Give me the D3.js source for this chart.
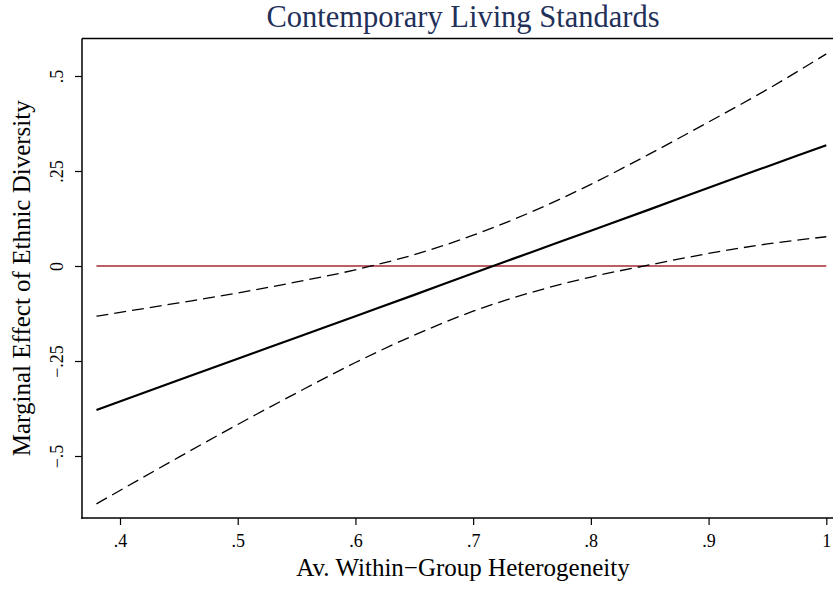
<!DOCTYPE html>
<html>
<head>
<meta charset="utf-8">
<script src="https://cdn.jsdelivr.net/npm/d3@7"></script>
<style>
  html, body { margin: 0; padding: 0; background: #fff; }
  svg { display: block; }
  text { font-family: "Liberation Serif", "DejaVu Serif", serif; }
</style>
</head>
<body>
<svg id="chart" width="833" height="589"></svg>
<script>
// Average within-group heterogeneity (x values of the estimated curve)
const heterogeneity = [0.38, 0.45, 0.50, 0.55, 0.60, 0.65, 0.70, 0.75, 0.80, 0.85, 0.90, 0.95, 1.00];
// Marginal effect of ethnic diversity
const marginalEffect = [-0.379, -0.300, -0.244, -0.188, -0.132, -0.076, -0.019, 0.037, 0.093, 0.149, 0.206, 0.262, 0.318];
// Upper and lower confidence bounds
const upperBound = [-0.132, -0.097, -0.071, -0.042, -0.010, 0.030, 0.081, 0.143, 0.215, 0.295, 0.379, 0.465, 0.558];
const lowerBound = [-0.626, -0.503, -0.417, -0.334, -0.254, -0.182, -0.119, -0.069, -0.029, 0.003, 0.033, 0.058, 0.077];

const xTicks = [0.4, 0.5, 0.6, 0.7, 0.8, 0.9, 1.0];
const xTickLabels = [".4", ".5", ".6", ".7", ".8", ".9", "1"];
const yTicks = [0.5, 0.25, 0, -0.25, -0.5];
const yTickLabels = [".5", ".25", "0", "\u2212.25", "\u2212.5"];

const title = "Contemporary Living Standards";
const xTitle = "Av. Within\u2212Group Heterogeneity";
const yTitle = "Marginal Effect of Ethnic Diversity";

const svg = d3.select("#chart");
// Plot region; its right edge runs past the visible canvas
const plot = { left: 82, right: 844, top: 38.5, bottom: 518 };
const plotCx = (plot.left + plot.right) / 2;
const plotCy = (plot.top + plot.bottom) / 2;

const x = d3.scaleLinear().domain([0.4, 1.0]).range([120, 826.3]);
const y = d3.scaleLinear().domain([-0.5, 0.5]).range([456, 76]);

// Title
svg.append("text")
  .attr("x", plotCx).attr("y", 27)
  .attr("text-anchor", "middle")
  .attr("font-size", 30.5)
  .attr("fill", "#1f3059")
  .text(title);

// Frame: top border line
svg.append("line")
  .attr("x1", plot.left).attr("x2", plot.right)
  .attr("y1", plot.top).attr("y2", plot.top)
  .attr("stroke", "#000").attr("stroke-width", 1.5);

// Axes
const xAxis = d3.axisBottom(x)
  .tickValues(xTicks)
  .tickFormat((d, i) => xTickLabels[i])
  .tickSize(7).tickPadding(9)
  .tickSizeOuter(0);
const gx = svg.append("g").attr("transform", `translate(0,${plot.bottom})`).call(xAxis);
gx.select(".domain").remove();
gx.append("line")
  .attr("x1", plot.left - 0.75).attr("x2", plot.right)
  .attr("y1", 0).attr("y2", 0)
  .attr("stroke", "#000").attr("stroke-width", 1.5);
gx.selectAll(".tick line").attr("stroke", "#000").attr("stroke-width", 1.2);
gx.selectAll(".tick text")
  .attr("font-family", "Liberation Serif, serif")
  .attr("font-size", 18).attr("fill", "#000");

const yAxis = d3.axisLeft(y)
  .tickValues(yTicks)
  .tickFormat((d, i) => yTickLabels[i])
  .tickSize(7).tickPadding(0)
  .tickSizeOuter(0);
const gy = svg.append("g").attr("transform", `translate(${plot.left},0)`).call(yAxis);
gy.select(".domain").remove();
gy.append("line")
  .attr("x1", 0).attr("x2", 0)
  .attr("y1", plot.top).attr("y2", plot.bottom + 0.75)
  .attr("stroke", "#000").attr("stroke-width", 1.5);
gy.selectAll(".tick line").attr("stroke", "#000").attr("stroke-width", 1.2);
gy.selectAll(".tick text")
  .attr("font-family", "Liberation Serif, serif")
  .attr("font-size", 18).attr("fill", "#000")
  .attr("text-anchor", "middle")
  .attr("x", null)
  .attr("transform", "translate(-25,0) rotate(-90)")
  .attr("dy", "0.35em");

// Axis titles
svg.append("text")
  .attr("x", plotCx).attr("y", 576)
  .attr("text-anchor", "middle")
  .attr("font-size", 25)
  .text(xTitle);

svg.append("text")
  .attr("transform", `translate(30,${plotCy}) rotate(-90)`)
  .attr("text-anchor", "middle")
  .attr("font-size", 25)
  .text(yTitle);

// Reference line at zero
svg.append("line")
  .attr("x1", x(heterogeneity[0])).attr("x2", x(heterogeneity[heterogeneity.length - 1]))
  .attr("y1", y(0)).attr("y2", y(0))
  .attr("stroke", "#a52a35").attr("stroke-width", 1.3);

const line = (vals) => d3.line()
  .x((d, i) => x(heterogeneity[i]))
  .y(d => y(d))
  .curve(d3.curveMonotoneX)(vals);

// Confidence bounds
[upperBound, lowerBound].forEach(b => {
  svg.append("path")
    .attr("d", line(b))
    .attr("fill", "none")
    .attr("stroke", "#000")
    .attr("stroke-width", 1.3)
    .attr("stroke-dasharray", "12,6");
});

// Marginal effect
svg.append("path")
  .attr("d", line(marginalEffect))
  .attr("fill", "none")
  .attr("stroke", "#000")
  .attr("stroke-width", 2.2);
</script>
</body>
</html>
